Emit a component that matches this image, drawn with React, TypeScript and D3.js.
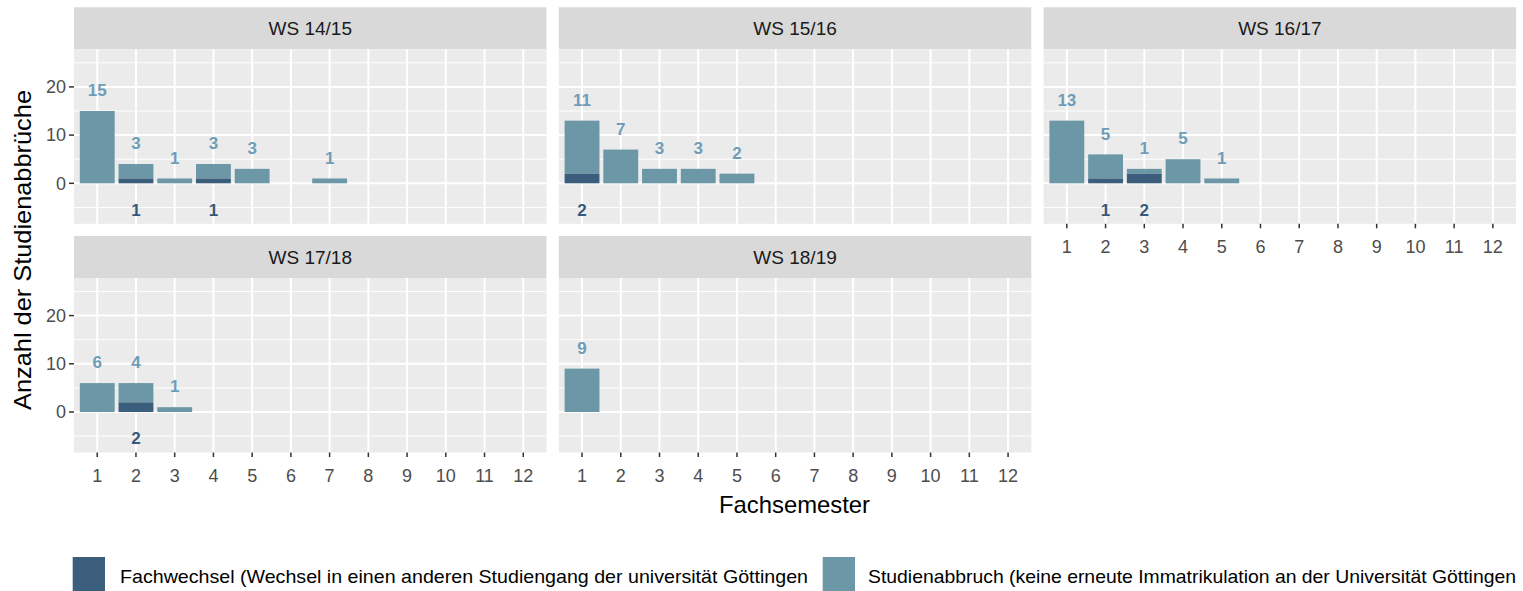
import React from "react";
import * as d3 from "d3";

// Fachsemester (x categories)
const semesters = ["1", "2", "3", "4", "5", "6", "7", "8", "9", "10", "11", "12"];
const terms = ["WS 14/15", "WS 15/16", "WS 16/17", "WS 17/18", "WS 18/19"];

// Fachwechsel (dark) per term, semesters 1..12
const wechsel1415 = [0, 1, 0, 1, 0, 0, 0, 0, 0, 0, 0, 0];
const wechsel1516 = [2, 0, 0, 0, 0, 0, 0, 0, 0, 0, 0, 0];
const wechsel1617 = [0, 1, 2, 0, 0, 0, 0, 0, 0, 0, 0, 0];
const wechsel1718 = [0, 2, 0, 0, 0, 0, 0, 0, 0, 0, 0, 0];
const wechsel1819 = [0, 0, 0, 0, 0, 0, 0, 0, 0, 0, 0, 0];

// Studienabbruch (light) per term
const abbruch1415 = [15, 3, 1, 3, 3, 0, 1, 0, 0, 0, 0, 0];
const abbruch1516 = [11, 7, 3, 3, 2, 0, 0, 0, 0, 0, 0, 0];
const abbruch1617 = [13, 5, 1, 5, 1, 0, 0, 0, 0, 0, 0, 0];
const abbruch1718 = [6, 4, 1, 0, 0, 0, 0, 0, 0, 0, 0, 0];
const abbruch1819 = [9, 0, 0, 0, 0, 0, 0, 0, 0, 0, 0, 0];

const yTicks = [0, 10, 20];
const yMinor = [-5, 5, 15, 25];

const legendLabels = [
  "Fachwechsel (Wechsel in einen anderen Studiengang der universität Göttingen",
  "Studienabbruch (keine erneute Immatrikulation an der Universität Göttingen",
];

const wechsel = [wechsel1415, wechsel1516, wechsel1617, wechsel1718, wechsel1819];
const abbruch = [abbruch1415, abbruch1516, abbruch1617, abbruch1718, abbruch1819];

const DARK = "#3B5E7C";
const LIGHT = "#6C97A6";
const DARK_LABEL = "#36597A";
const LIGHT_LABEL = "#6E9DBA";
const FONT = "Liberation Sans, Arial, sans-serif";

const W = 1523;
const H = 591;

// layout
const panelLeft0 = 74;
const panelW = 472.5;
const colGap = 12.3;
const stripTops = [7.3, 236];
const stripH = 42;
const panelH = 174.5;

const Panel = ({ idx }: { idx: number }) => {
  const col = idx % 3;
  const row = Math.floor(idx / 3);
  const x0 = panelLeft0 + col * (panelW + colGap);
  const sTop = stripTops[row];
  const pTop = sTop + stripH;
  const pBot = pTop + panelH;

  const x = d3
    .scaleBand()
    .domain(semesters)
    .range([x0, x0 + panelW])
    .paddingInner(0.1)
    .paddingOuter(0.15);
  const y = d3.scaleLinear().domain([-8.4, 27.8]).range([pBot, pTop]);

  const dark = wechsel[idx];
  const light = abbruch[idx];
  const center = (s: string) => (x(s) as number) + x.bandwidth() / 2;

  const showX = row === 1 || col === 2;
  const showY = col === 0;

  return (
    <g>
      <rect x={x0} y={sTop} width={panelW} height={stripH} fill="#D9D9D9" />
      <text
        x={x0 + panelW / 2}
        y={sTop + stripH / 2}
        dy="0.35em"
        textAnchor="middle"
        fontSize={19}
        fill="#1A1A1A"
        fontFamily={FONT}
      >
        {terms[idx]}
      </text>
      <rect x={x0} y={pTop} width={panelW} height={panelH} fill="#EBEBEB" />
      {yMinor.map((t) => (
        <line key={"mn" + t} x1={x0} x2={x0 + panelW} y1={y(t)} y2={y(t)} stroke="#fff" strokeWidth={1} />
      ))}
      {yTicks.map((t) => (
        <line key={"mj" + t} x1={x0} x2={x0 + panelW} y1={y(t)} y2={y(t)} stroke="#fff" strokeWidth={2} />
      ))}
      {semesters.map((s) => (
        <line key={"v" + s} x1={center(s)} x2={center(s)} y1={pTop} y2={pBot} stroke="#fff" strokeWidth={2} />
      ))}
      {semesters.map((s, i) =>
        dark[i] + light[i] > 0 ? (
          <g key={"b" + s}>
            {light[i] > 0 && (
              <rect
                x={x(s)}
                width={x.bandwidth()}
                y={y(dark[i] + light[i])}
                height={y(dark[i]) - y(dark[i] + light[i])}
                fill={LIGHT}
              />
            )}
            {dark[i] > 0 && (
              <rect
                x={x(s)}
                width={x.bandwidth()}
                y={y(dark[i])}
                height={y(0) - y(dark[i])}
                fill={DARK}
              />
            )}
          </g>
        ) : null
      )}
      {semesters.map((s, i) =>
        light[i] > 0 ? (
          <text
            key={"ll" + s}
            x={center(s)}
            y={y(dark[i] + light[i] + 4.3)}
            dy="0.35em"
            textAnchor="middle"
            fontSize={17}
            fontWeight="bold"
            fill={LIGHT_LABEL}
            fontFamily={FONT}
          >
            {light[i]}
          </text>
        ) : null
      )}
      {semesters.map((s, i) =>
        dark[i] > 0 ? (
          <text
            key={"dl" + s}
            x={center(s)}
            y={y(-5.5)}
            dy="0.35em"
            textAnchor="middle"
            fontSize={17}
            fontWeight="bold"
            fill={DARK_LABEL}
            fontFamily={FONT}
          >
            {dark[i]}
          </text>
        ) : null
      )}
      {showX &&
        semesters.map((s) => (
          <g key={"xt" + s}>
            <line x1={center(s)} x2={center(s)} y1={pBot} y2={pBot + 4.5} stroke="#333" strokeWidth={1.5} />
            <text
              x={center(s)}
              y={pBot + 23}
              dy="0.35em"
              textAnchor="middle"
              fontSize={18}
              fill="#4D4D4D"
              fontFamily={FONT}
            >
              {s}
            </text>
          </g>
        ))}
      {showY &&
        yTicks.map((t) => (
          <g key={"yt" + t}>
            <line x1={x0 - 5} x2={x0} y1={y(t)} y2={y(t)} stroke="#333" strokeWidth={1.5} />
            <text
              x={x0 - 8}
              y={y(t)}
              dy="0.35em"
              textAnchor="end"
              fontSize={18}
              fill="#4D4D4D"
              fontFamily={FONT}
            >
              {t}
            </text>
          </g>
        ))}
    </g>
  );
};

export default function App() {
  return (
    <svg
      width={W}
      height={H}
      style={{ position: "absolute", left: 0, top: 0, background: "#fff" }}
    >
      {terms.map((t, i) => (
        <Panel key={t} idx={i} />
      ))}
      <text
        transform="translate(31,250) rotate(-90)"
        textAnchor="middle"
        fontSize={24}
        textLength={320}
        lengthAdjust="spacingAndGlyphs"
        fill="#000"
        fontFamily={FONT}
      >
        Anzahl der Studienabbrüche
      </text>
      <text
        x={794.5}
        y={513}
        textAnchor="middle"
        fontSize={24}
        textLength={151}
        lengthAdjust="spacingAndGlyphs"
        fill="#000"
        fontFamily={FONT}
      >
        Fachsemester
      </text>
      {/* legend */}
      <rect x={72.7} y={557} width={32.3} height={34} fill={DARK} />
      <text
        x={120}
        y={583}
        fontSize={18.5}
        textLength={688}
        lengthAdjust="spacingAndGlyphs"
        fill="#000"
        fontFamily={FONT}
      >
        {legendLabels[0]}
      </text>
      <rect x={822.7} y={557} width={32.3} height={34} fill={LIGHT} />
      <text
        x={868}
        y={583}
        fontSize={18.5}
        textLength={648}
        lengthAdjust="spacingAndGlyphs"
        fill="#000"
        fontFamily={FONT}
      >
        {legendLabels[1]}
      </text>
    </svg>
  );
}
